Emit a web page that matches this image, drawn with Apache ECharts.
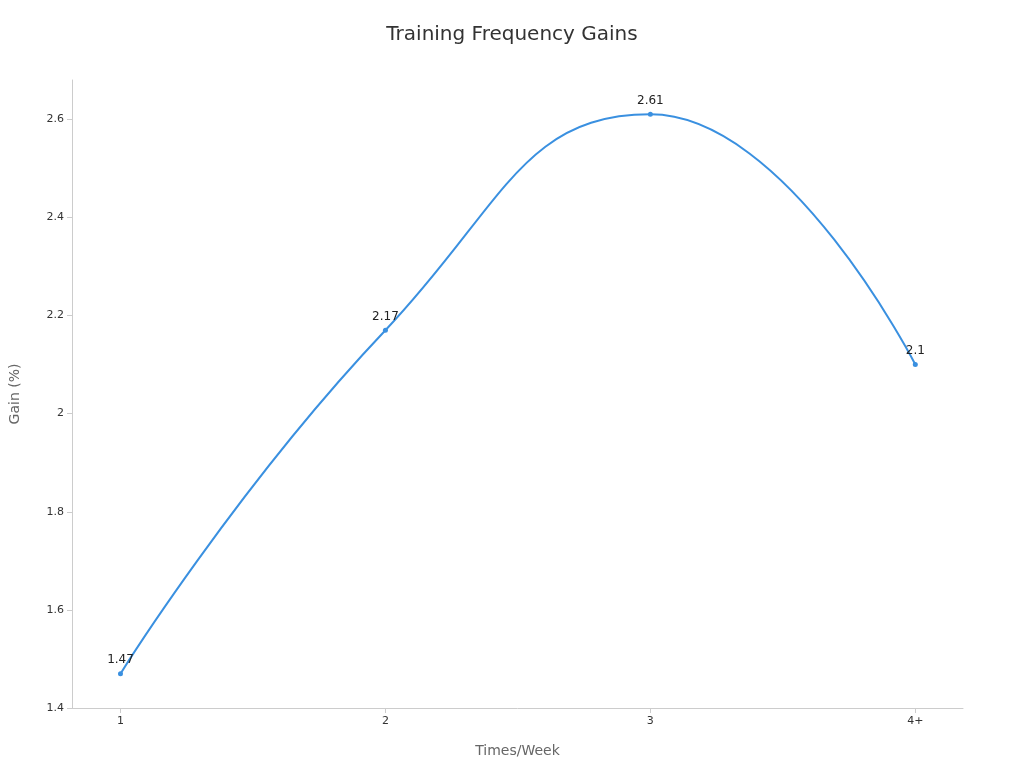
<!DOCTYPE html>
<html><head><meta charset="utf-8">
<script src="https://cdn.jsdelivr.net/npm/echarts@6/dist/echarts.min.js"></script>
<style>html,body{margin:0;padding:0}#c{width:1024px;height:768px}</style>
</head><body><div id="c"></div>
<script>
const categories = ['1','2','3','4+'];
const gains = [1.47, 2.17, 2.61, 2.1];
const chart = echarts.init(document.getElementById('c'));
chart.setOption({
  backgroundColor:'#fff',
  title:{text:'Training Frequency Gains',left:'center',top:20,textStyle:{fontFamily:'DejaVu Sans',fontSize:20,fontWeight:'normal',color:'#333'}},
  grid:{left:64,right:61,top:80,bottom:60},
  xAxis:{type:'value',min:0.817,max:4.18,name:'Times/Week',nameLocation:'middle',nameGap:36,
    nameTextStyle:{fontFamily:'DejaVu Sans',fontSize:14,color:'#666'},
    splitLine:{show:false},
    axisLine:{show:true,lineStyle:{color:'#ccc'}},
    axisTick:{show:true,customValues:[1,2,3,4],lineStyle:{color:'#ccc'}},
    axisLabel:{customValues:[1,2,3,4],formatter:v=>categories[Math.round(v)-1],fontFamily:'DejaVu Sans',fontSize:11,color:'#333'}},
  yAxis:{type:'value',min:1.4,max:2.68,interval:0.2,name:'Gain (%)',nameLocation:'middle',nameGap:50,
    nameTextStyle:{fontFamily:'DejaVu Sans',fontSize:14,color:'#666'},
    splitLine:{show:false},
    axisLine:{show:true,lineStyle:{color:'#ccc'}},
    axisTick:{show:true,lineStyle:{color:'#ccc'}},
    axisLabel:{showMaxLabel:false,formatter:v=>String(parseFloat(v.toFixed(2))),fontFamily:'DejaVu Sans',fontSize:11,color:'#333'}},
  series:[{type:'line',smooth:true,data:gains.map((v,i)=>[i+1,v]),
    symbol:'circle',symbolSize:5,
    lineStyle:{color:'#3a90e0',width:2},itemStyle:{color:'#3a90e0'},
    label:{show:true,position:'top',fontFamily:'DejaVu Sans',fontSize:12,color:'#222'}
  }]
});
</script></body></html>
